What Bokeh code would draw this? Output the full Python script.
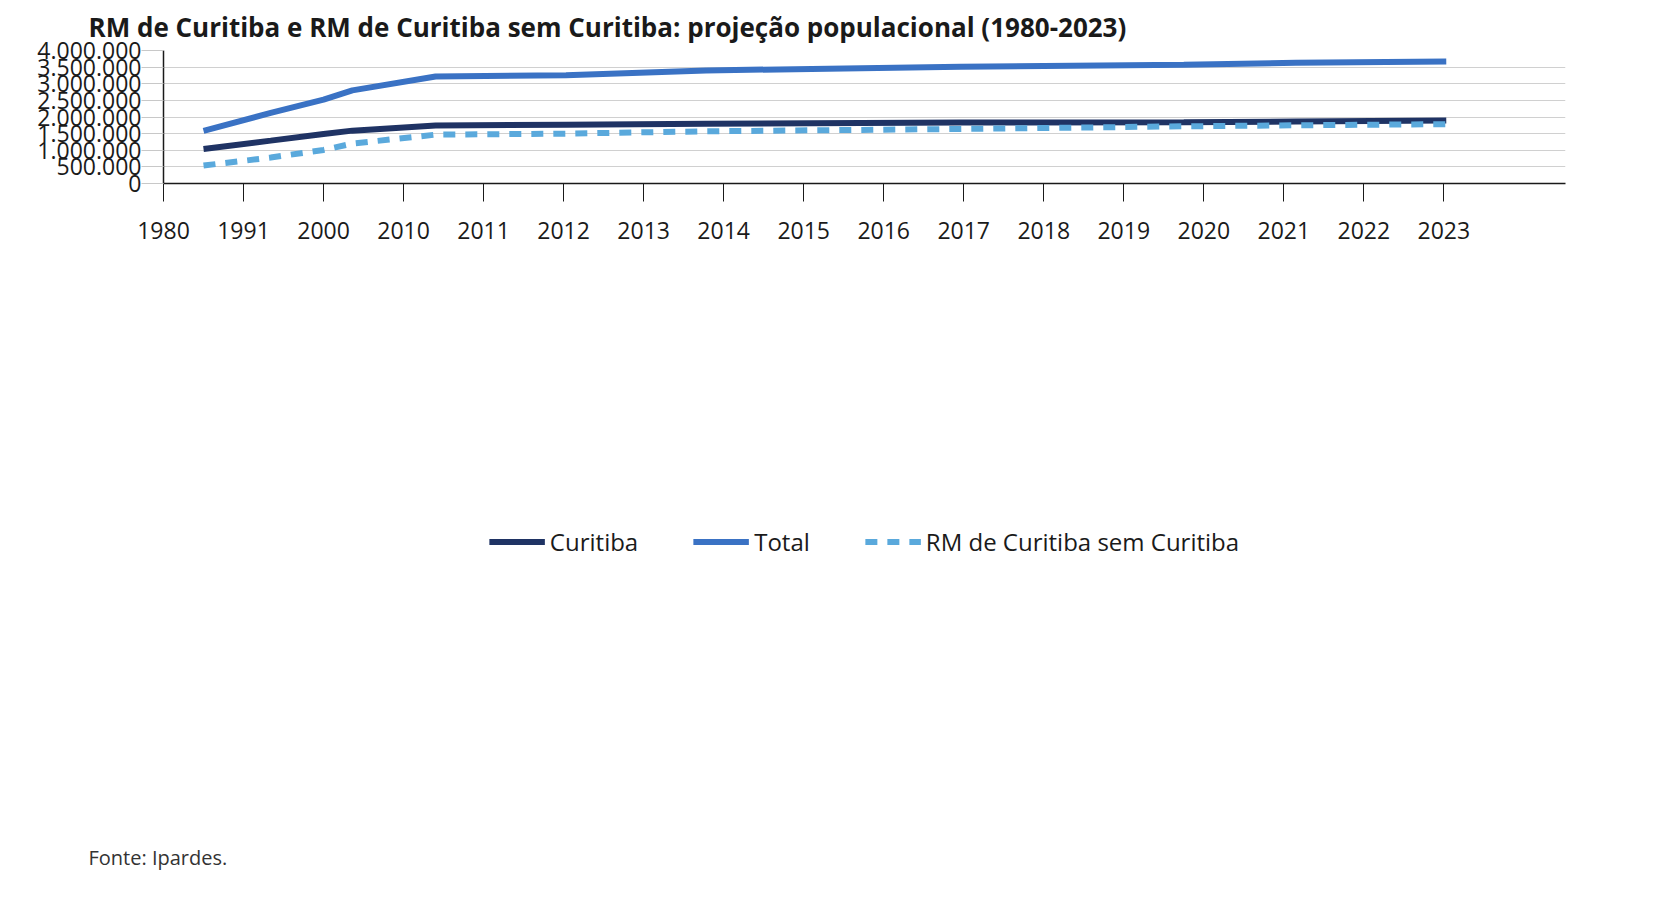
from bokeh.plotting import figure
from bokeh.models import Legend, LegendItem, Title, FixedTicker, Range1d
from bokeh.embed import file_html
from bokeh.resources import INLINE

tick_labels = ["1980","1991","2000","2010","2011","2012","2013","2014","2015","2016","2017","2018","2019","2020","2021","2022","2023"]
x_pos = [0.5, 1.34, 2.0, 2.36, 3.4, 5.03, 6.78, 9.96, 12.75, 14.15, 16.03]
curitiba = [1040000, 1290000, 1490000, 1590000, 1743000, 1770000, 1795000, 1835000, 1840000, 1865000, 1895000]
total = [1583000, 2125000, 2520000, 2800000, 3220000, 3257000, 3400000, 3510000, 3570000, 3630000, 3667000]
rm_sem = [540000, 780000, 1010000, 1200000, 1470000, 1500000, 1570000, 1640000, 1720000, 1750000, 1785000]
y_ticks = [0, 500000, 1000000, 1500000, 2000000, 2500000, 3000000, 3500000, 4000000]

FONT = "Open Sans"
p = figure(width=1568, height=870, output_backend="svg", toolbar_location=None,
           x_range=Range1d(0, 17.52), y_range=Range1d(0, 4000000),
           min_border_left=163, min_border_right=3, min_border_top=12, min_border_bottom=8)
p.title.text = "RM de Curitiba e RM de Curitiba sem Curitiba: projeção populacional (1980-2023)"
p.title.text_font = FONT
p.title.text_font_size = "26px"
p.title.text_font_style = "bold"
p.title.text_color = "#1a1a1a"
p.title.offset = -75
p.title.standoff = 12
p.outline_line_color = None

l1 = p.line(x_pos, curitiba, line_width=6, color="#1f3364")
l2 = p.line(x_pos, total, line_width=6, color="#3a72c4")
l3 = p.line(x_pos, rm_sem, line_width=6, color="#5aa9dc", line_dash="12 10")

p.xaxis.ticker = FixedTicker(ticks=list(range(len(tick_labels))))
p.xaxis.major_label_overrides = {i: t for i, t in enumerate(tick_labels)}
p.yaxis.ticker = FixedTicker(ticks=y_ticks)
p.yaxis.major_label_overrides = {v: ("0" if v == 0 else f"{v:,}".replace(",", ".")) for v in y_ticks}
for ax in (p.xaxis, p.yaxis):
    ax.major_label_text_font = FONT
    ax.major_label_text_font_size = "23px"
    ax.major_label_text_color = "#1a1a1a"
    ax.axis_line_color = "#1a1a1a"
    ax.axis_line_width = 1.5
    ax.minor_tick_line_color = None
p.xaxis.major_tick_out = 18
p.xaxis.major_tick_in = 0
p.xaxis.major_label_standoff = 20
p.xaxis.major_tick_line_color = "#1a1a1a"
p.yaxis.major_tick_out = 22
p.yaxis.major_tick_in = 0
p.yaxis.major_tick_line_color = "#c8c8c8"
p.yaxis.major_label_standoff = 0
p.xgrid.grid_line_color = None
p.ygrid.grid_line_color = "#d0d0d0"

legend = Legend(items=[LegendItem(label="Curitiba", renderers=[l1]),
                       LegendItem(label="Total", renderers=[l2]),
                       LegendItem(label="RM de Curitiba sem Curitiba", renderers=[l3])],
                orientation="horizontal", location="center", border_line_color=None,
                label_text_font=FONT, label_text_font_size="24px", label_text_color="#1a1a1a",
                glyph_width=56, spacing=55, margin=0, padding=0)
p.add_layout(Title(text="Fonte: Ipardes.", text_font=FONT, text_font_size="20px",
                   text_font_style="normal", text_color="#333333", offset=-75, standoff=0), "below")
p.add_layout(legend, "below")
p.below.insert(1, p.below.pop())
p.below[1].margin = 50
p.below[1].padding = 0

open("out.html", "w").write(file_html(p, INLINE))
